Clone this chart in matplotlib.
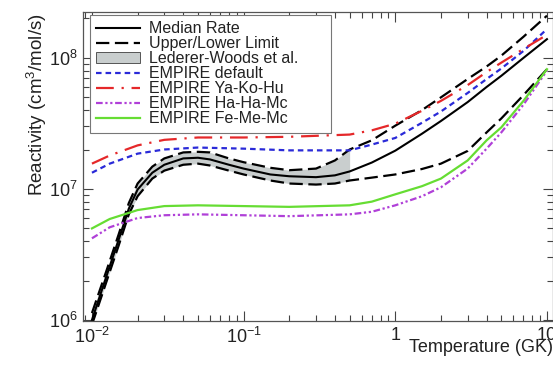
import numpy as np
import matplotlib.pyplot as plt
from matplotlib.patches import Patch
from matplotlib.lines import Line2D
from matplotlib.ticker import FixedLocator, FixedFormatter

plt.rcParams['font.family'] = ['Liberation Sans', 'DejaVu Sans']
plt.rcParams['mathtext.default'] = 'regular'

# temperature grid (GK) for the rate curves
T = [0.01, 0.0125, 0.015, 0.0175, 0.02, 0.025, 0.03, 0.04, 0.05, 0.06, 0.08,
     0.1, 0.15, 0.2, 0.3, 0.4, 0.5, 0.7, 1.0, 1.5, 2.0, 3.0, 4.0, 5.0, 7.0, 10.0]

median = [1.0e6, 2.18e6, 4.1e6, 7.06e6, 9.9e6, 1.33e7, 1.53e7, 1.71e7, 1.73e7, 1.68e7, 1.53e7,
          1.43e7, 1.29e7, 1.25e7, 1.23e7, 1.27e7, 1.36e7, 1.59e7, 1.96e7, 2.64e7, 3.3e7, 4.6e7,
          6.0e7, 7.3e7, 1.0e8, 1.39e8]
upper = [1.13e6, 2.4e6, 4.5e6, 7.8e6, 1.1e7, 1.48e7, 1.71e7, 1.9e7, 1.92e7, 1.9e7, 1.71e7,
         1.6e7, 1.45e7, 1.39e7, 1.43e7, 1.65e7, 2.0e7, 2.35e7, 3.04e7, 4.0e7, 5.0e7, 6.9e7,
         8.6e7, 1.04e8, 1.45e8, 2.1e8]
lower = [0.92e6, 1.98e6, 3.7e6, 6.4e6, 8.8e6, 1.2e7, 1.38e7, 1.53e7, 1.56e7, 1.51e7, 1.38e7,
         1.29e7, 1.16e7, 1.1e7, 1.08e7, 1.1e7, 1.16e7, 1.22e7, 1.29e7, 1.42e7, 1.56e7, 1.95e7,
         2.7e7, 3.45e7, 5.2e7, 8.2e7]

# Lederer-Woods et al. band (only up to 0.5 GK)
lw_T = T[:17]
lw_low = lower[:17]
lw_high = upper[:17]

# EMPIRE calculations
emp_T = [0.01, 0.0131, 0.02, 0.03, 0.05, 0.1, 0.2, 0.5, 0.7, 1.0, 1.5, 2.0, 3.0, 4.0, 5.0, 7.0, 10.0]
emp_default = [1.33e7, 1.56e7, 1.86e7, 2.0e7, 2.07e7, 2.03e7, 1.97e7, 1.97e7, 2.18e7, 2.45e7,
               3.2e7, 3.9e7, 5.4e7, 6.9e7, 8.3e7, 1.13e8, 1.66e8]
emp_yakohu = [1.56e7, 1.8e7, 2.15e7, 2.37e7, 2.47e7, 2.47e7, 2.5e7, 2.6e7, 2.8e7, 3.15e7,
              3.95e7, 4.7e7, 6.2e7, 7.8e7, 9.2e7, 1.17e8, 1.5e8]
emp_hahamc = [4.2e6, 5.1e6, 6.0e6, 6.3e6, 6.4e6, 6.3e6, 6.2e6, 6.4e6, 6.7e6, 7.5e6,
              8.8e6, 1.03e7, 1.43e7, 2.03e7, 2.7e7, 4.4e7, 8.0e7]
emp_fememc = [5.0e6, 5.9e6, 6.9e6, 7.4e6, 7.5e6, 7.4e6, 7.3e6, 7.5e6, 8.0e6, 9.1e6,
              1.05e7, 1.2e7, 1.65e7, 2.35e7, 2.95e7, 4.7e7, 8.2e7]

xticks = [0.01, 0.1, 1, 10]
xtick_labels = ['$10^{-2}$', '$10^{-1}$', '1', '10']

fig = plt.figure(figsize=(5.53, 3.66), dpi=100)
ax = fig.add_axes([83/553, 1 - 321/366, 470/553, 309/366])

band_col = '#c9cece'
ax.fill_between(lw_T, lw_low, lw_high, color=band_col, lw=0)

ax.plot(T, median, color='black', lw=1.5)
ax.plot(T, upper, color='black', lw=1.6, dashes=(6, 2.5))
ax.plot(T, lower, color='black', lw=1.6, dashes=(6, 2.5))

blue, red, purple, green = '#2a2ad8', '#e5282a', '#b040d8', '#66dd33'
ax.plot(emp_T, emp_default, color=blue, lw=1.6, dashes=(2.5, 1.8))
ax.plot(emp_T, emp_yakohu, color=red, lw=1.6, dashes=(8, 3.5, 1, 3.5))
ax.plot(emp_T, emp_hahamc, color=purple, lw=1.6, dashes=(3, 1.2, 1, 1.2, 1, 1.2))
ax.plot(emp_T, emp_fememc, color=green, lw=1.6)

ax.set_xscale('log')
ax.set_yscale('log')
ax.set_xlim(0.00873, 10.96)
ax.set_ylim(10**(6 - 1/131.5), 2.24e8)

ax.xaxis.set_major_locator(FixedLocator(xticks))
ax.xaxis.set_major_formatter(FixedFormatter(xtick_labels))
ax.tick_params(which='both', direction='in', top=True, right=True, width=0.8, colors='#444',
               labelcolor='#222')
ax.tick_params(which='major', length=7, labelsize=13, pad=4)
ax.tick_params(which='minor', length=4)
for s in ax.spines.values():
    s.set_color('#555')
    s.set_linewidth(0.9)

ax.set_ylabel('Reactivity (cm$^3$/mol/s)', fontsize=13.5, color='#222')
ax.yaxis.set_label_coords(-0.099, 0.70)
ax.yaxis.label.set_va('center')
ax.set_xlabel('Temperature (GK)', fontsize=13, color='#222')
ax.xaxis.set_label_coords(1.0, -0.085)
ax.xaxis.label.set_ha('right')
ax.xaxis.label.set_va('center')

handles = [
    Line2D([], [], color='black', lw=1.5),
    Line2D([], [], color='black', lw=1.6, dashes=(6, 2.5)),
    Patch(facecolor=band_col, edgecolor='#555', lw=0.7),
    Line2D([], [], color=blue, lw=1.6, dashes=(2.5, 1.8)),
    Line2D([], [], color=red, lw=1.6, dashes=(8, 3.5, 1, 3.5)),
    Line2D([], [], color=purple, lw=1.6, dashes=(3, 1.2, 1, 1.2, 1, 1.2)),
    Line2D([], [], color=green, lw=1.6),
]
labels = ['Median Rate', 'Upper/Lower Limit', 'Lederer-Woods et al.', 'EMPIRE default',
          'EMPIRE Ya-Ko-Hu', 'EMPIRE Ha-Ha-Mc', 'EMPIRE Fe-Me-Mc']
leg = ax.legend(handles, labels, loc='upper left', mode='expand',
                bbox_to_anchor=(7/470, 0.99, 241/470, 0.0),
                borderaxespad=0, fontsize=11.5, handlelength=2.7, handletextpad=0.6,
                labelspacing=0.0, borderpad=0.4, fancybox=False, framealpha=1)
leg.get_frame().set_edgecolor('#777')
leg.get_frame().set_linewidth(0.8)
for t in leg.get_texts():
    t.set_color('#222')

fig.savefig('out.png', dpi=100)
